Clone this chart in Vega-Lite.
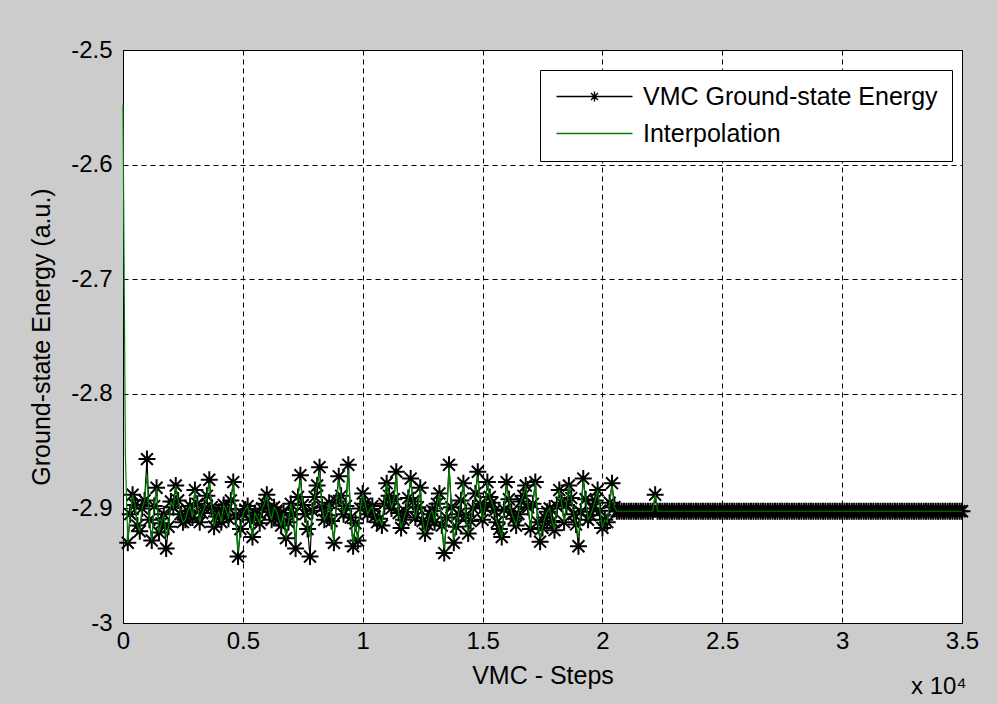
{
  "$schema": "https://vega.github.io/schema/vega-lite/v6.json",
  "width": 839,
  "height": 573,
  "autosize": "none",
  "padding": {"left": 123, "top": 50, "right": 35, "bottom": 81},
  "background": "#cccccc",
  "config": {
    "view": {"fill": "white", "stroke": "black", "strokeWidth": 1},
    "font": "Liberation Sans, Arial, sans-serif",
    "axis": {
      "domain": false, "ticks": false, "grid": true,
      "gridColor": "black", "gridDash": [5, 4], "gridOpacity": 1, "gridWidth": 1,
      "labelFont": "Liberation Sans, Arial, sans-serif", "labelFontSize": 24, "labelColor": "black",
      "titleFont": "Liberation Sans, Arial, sans-serif", "titleFontSize": 25, "titleFontWeight": "normal", "titleColor": "black"
    }
  },
  "title": {
    "text": "x 10\u2074", "orient": "bottom", "anchor": "end", "fontSize": 24, "dx": -12,
    "fontWeight": "normal", "color": "black", "font": "Liberation Sans, Arial, sans-serif", "offset": -13
  },
  "data": {"values": [
    {"step": 0, "vmc": -2.672, "interp": -2.548},
    {"step": 100, "interp": -2.855},
    {"step": 200, "vmc": -2.930, "interp": -2.930},
    {"step": 400, "vmc": -2.888, "interp": -2.888},
    {"step": 600, "vmc": -2.915, "interp": -2.915},
    {"step": 800, "vmc": -2.900, "interp": -2.900},
    {"step": 1000, "vmc": -2.857, "interp": -2.870},
    {"step": 1200, "vmc": -2.928, "interp": -2.928},
    {"step": 1400, "vmc": -2.882, "interp": -2.882},
    {"step": 1600, "vmc": -2.913, "interp": -2.913},
    {"step": 1800, "vmc": -2.935, "interp": -2.925},
    {"step": 2000, "vmc": -2.894, "interp": -2.894},
    {"step": 2200, "vmc": -2.880, "interp": -2.880},
    {"step": 2400, "vmc": -2.905, "interp": -2.905},
    {"step": 2600, "vmc": -2.910, "interp": -2.910},
    {"step": 2800, "vmc": -2.898, "interp": -2.898},
    {"step": 3000, "vmc": -2.884, "interp": -2.884},
    {"step": 3200, "vmc": -2.912, "interp": -2.912},
    {"step": 3400, "vmc": -2.900, "interp": -2.900},
    {"step": 3600, "vmc": -2.875, "interp": -2.878},
    {"step": 3800, "vmc": -2.916, "interp": -2.916},
    {"step": 4000, "vmc": -2.903, "interp": -2.903},
    {"step": 4200, "vmc": -2.897, "interp": -2.897},
    {"step": 4400, "vmc": -2.909, "interp": -2.909},
    {"step": 4600, "vmc": -2.877, "interp": -2.877},
    {"step": 4800, "vmc": -2.942, "interp": -2.938},
    {"step": 5000, "vmc": -2.905, "interp": -2.905},
    {"step": 5200, "vmc": -2.898, "interp": -2.898},
    {"step": 5400, "vmc": -2.925, "interp": -2.925},
    {"step": 5600, "vmc": -2.908, "interp": -2.908},
    {"step": 5800, "vmc": -2.900, "interp": -2.900},
    {"step": 6000, "vmc": -2.888, "interp": -2.888},
    {"step": 6200, "vmc": -2.910, "interp": -2.910},
    {"step": 6400, "vmc": -2.902, "interp": -2.902},
    {"step": 6600, "vmc": -2.915, "interp": -2.915},
    {"step": 6800, "vmc": -2.926, "interp": -2.926},
    {"step": 7000, "vmc": -2.896, "interp": -2.896},
    {"step": 7200, "vmc": -2.935, "interp": -2.930},
    {"step": 7400, "vmc": -2.871, "interp": -2.875},
    {"step": 7600, "vmc": -2.905, "interp": -2.905},
    {"step": 7800, "vmc": -2.942, "interp": -2.925},
    {"step": 8000, "vmc": -2.890, "interp": -2.890},
    {"step": 8200, "vmc": -2.864, "interp": -2.868},
    {"step": 8400, "vmc": -2.910, "interp": -2.910},
    {"step": 8600, "vmc": -2.895, "interp": -2.895},
    {"step": 8800, "vmc": -2.930, "interp": -2.930},
    {"step": 9000, "vmc": -2.872, "interp": -2.875},
    {"step": 9200, "vmc": -2.905, "interp": -2.905},
    {"step": 9400, "vmc": -2.862, "interp": -2.866},
    {"step": 9600, "vmc": -2.933, "interp": -2.930},
    {"step": 9800, "vmc": -2.928, "interp": -2.928},
    {"step": 10000, "vmc": -2.887, "interp": -2.887},
    {"step": 10200, "vmc": -2.905, "interp": -2.905},
    {"step": 10400, "vmc": -2.898, "interp": -2.898},
    {"step": 10600, "vmc": -2.912, "interp": -2.912},
    {"step": 10800, "vmc": -2.915, "interp": -2.915},
    {"step": 11000, "vmc": -2.878, "interp": -2.878},
    {"step": 11200, "vmc": -2.900, "interp": -2.900},
    {"step": 11400, "vmc": -2.868, "interp": -2.870},
    {"step": 11600, "vmc": -2.917, "interp": -2.917},
    {"step": 11800, "vmc": -2.903, "interp": -2.903},
    {"step": 12000, "vmc": -2.874, "interp": -2.876},
    {"step": 12200, "vmc": -2.908, "interp": -2.908},
    {"step": 12400, "vmc": -2.882, "interp": -2.882},
    {"step": 12600, "vmc": -2.922, "interp": -2.922},
    {"step": 12800, "vmc": -2.905, "interp": -2.905},
    {"step": 13000, "vmc": -2.912, "interp": -2.912},
    {"step": 13200, "vmc": -2.887, "interp": -2.887},
    {"step": 13400, "vmc": -2.939, "interp": -2.935},
    {"step": 13600, "vmc": -2.862, "interp": -2.864},
    {"step": 13800, "vmc": -2.930, "interp": -2.928},
    {"step": 14000, "vmc": -2.905, "interp": -2.905},
    {"step": 14200, "vmc": -2.878, "interp": -2.878},
    {"step": 14400, "vmc": -2.922, "interp": -2.922},
    {"step": 14600, "vmc": -2.900, "interp": -2.900},
    {"step": 14800, "vmc": -2.868, "interp": -2.872},
    {"step": 15000, "vmc": -2.910, "interp": -2.910},
    {"step": 15200, "vmc": -2.877, "interp": -2.877},
    {"step": 15400, "vmc": -2.895, "interp": -2.895},
    {"step": 15600, "vmc": -2.912, "interp": -2.912},
    {"step": 15800, "vmc": -2.925, "interp": -2.925},
    {"step": 16000, "vmc": -2.877, "interp": -2.880},
    {"step": 16200, "vmc": -2.903, "interp": -2.903},
    {"step": 16400, "vmc": -2.915, "interp": -2.915},
    {"step": 16600, "vmc": -2.894, "interp": -2.894},
    {"step": 16800, "vmc": -2.880, "interp": -2.880},
    {"step": 17000, "vmc": -2.918, "interp": -2.918},
    {"step": 17200, "vmc": -2.877, "interp": -2.877},
    {"step": 17400, "vmc": -2.929, "interp": -2.926},
    {"step": 17600, "vmc": -2.908, "interp": -2.908},
    {"step": 17800, "vmc": -2.900, "interp": -2.900},
    {"step": 18000, "vmc": -2.919, "interp": -2.919},
    {"step": 18200, "vmc": -2.884, "interp": -2.884},
    {"step": 18400, "vmc": -2.912, "interp": -2.912},
    {"step": 18600, "vmc": -2.880, "interp": -2.880},
    {"step": 18800, "vmc": -2.905, "interp": -2.905},
    {"step": 19000, "vmc": -2.933, "interp": -2.926},
    {"step": 19200, "vmc": -2.874, "interp": -2.876},
    {"step": 19400, "vmc": -2.910, "interp": -2.910},
    {"step": 19600, "vmc": -2.900, "interp": -2.900},
    {"step": 19800, "vmc": -2.884, "interp": -2.884},
    {"step": 20000, "vmc": -2.917, "interp": -2.917},
    {"step": 20200, "vmc": -2.912, "interp": -2.912},
    {"step": 20400, "vmc": -2.878, "interp": -2.880},
    {"step": 300, "vmc": -2.905, "interp": -2.905},
    {"step": 500, "vmc": -2.897, "interp": -2.897},
    {"step": 700, "vmc": -2.920, "interp": -2.920},
    {"step": 900, "vmc": -2.893, "interp": -2.893},
    {"step": 1100, "vmc": -2.910, "interp": -2.910},
    {"step": 1300, "vmc": -2.898, "interp": -2.898},
    {"step": 1500, "vmc": -2.921, "interp": -2.921},
    {"step": 1700, "vmc": -2.905, "interp": -2.905},
    {"step": 1900, "vmc": -2.916, "interp": -2.916},
    {"step": 2100, "vmc": -2.899, "interp": -2.899},
    {"step": 2300, "vmc": -2.893, "interp": -2.893},
    {"step": 2500, "vmc": -2.912, "interp": -2.912},
    {"step": 2700, "vmc": -2.902, "interp": -2.902},
    {"step": 2900, "vmc": -2.908, "interp": -2.908},
    {"step": 3100, "vmc": -2.896, "interp": -2.896},
    {"step": 3300, "vmc": -2.904, "interp": -2.904},
    {"step": 3500, "vmc": -2.889, "interp": -2.889},
    {"step": 3700, "vmc": -2.899, "interp": -2.899},
    {"step": 3900, "vmc": -2.907, "interp": -2.907},
    {"step": 4100, "vmc": -2.912, "interp": -2.912},
    {"step": 4300, "vmc": -2.901, "interp": -2.901},
    {"step": 4500, "vmc": -2.893, "interp": -2.893},
    {"step": 4700, "vmc": -2.906, "interp": -2.906},
    {"step": 4900, "vmc": -2.918, "interp": -2.918},
    {"step": 5100, "vmc": -2.901, "interp": -2.901},
    {"step": 5300, "vmc": -2.910, "interp": -2.910},
    {"step": 5500, "vmc": -2.904, "interp": -2.904},
    {"step": 5700, "vmc": -2.913, "interp": -2.913},
    {"step": 5900, "vmc": -2.896, "interp": -2.896},
    {"step": 6100, "vmc": -2.903, "interp": -2.903},
    {"step": 6300, "vmc": -2.899, "interp": -2.899},
    {"step": 6500, "vmc": -2.909, "interp": -2.909},
    {"step": 6700, "vmc": -2.904, "interp": -2.904},
    {"step": 6900, "vmc": -2.912, "interp": -2.912},
    {"step": 7100, "vmc": -2.905, "interp": -2.905},
    {"step": 7300, "vmc": -2.890, "interp": -2.890},
    {"step": 7500, "vmc": -2.897, "interp": -2.897},
    {"step": 7700, "vmc": -2.918, "interp": -2.918},
    {"step": 7900, "vmc": -2.902, "interp": -2.902},
    {"step": 8100, "vmc": -2.880, "interp": -2.880},
    {"step": 8300, "vmc": -2.899, "interp": -2.899},
    {"step": 8500, "vmc": -2.906, "interp": -2.906},
    {"step": 8700, "vmc": -2.911, "interp": -2.911},
    {"step": 8900, "vmc": -2.894, "interp": -2.894},
    {"step": 9100, "vmc": -2.889, "interp": -2.889},
    {"step": 9300, "vmc": -2.898, "interp": -2.898},
    {"step": 9500, "vmc": -2.908, "interp": -2.908},
    {"step": 9700, "vmc": -2.913, "interp": -2.913},
    {"step": 9900, "vmc": -2.900, "interp": -2.900},
    {"step": 10100, "vmc": -2.896, "interp": -2.896},
    {"step": 10300, "vmc": -2.901, "interp": -2.901},
    {"step": 10500, "vmc": -2.907, "interp": -2.907},
    {"step": 10700, "vmc": -2.909, "interp": -2.909},
    {"step": 10900, "vmc": -2.896, "interp": -2.896},
    {"step": 11100, "vmc": -2.889, "interp": -2.889},
    {"step": 11300, "vmc": -2.892, "interp": -2.892},
    {"step": 11500, "vmc": -2.904, "interp": -2.904},
    {"step": 11700, "vmc": -2.910, "interp": -2.910},
    {"step": 11900, "vmc": -2.891, "interp": -2.891},
    {"step": 12100, "vmc": -2.894, "interp": -2.894},
    {"step": 12300, "vmc": -2.899, "interp": -2.899},
    {"step": 12500, "vmc": -2.911, "interp": -2.911},
    {"step": 12700, "vmc": -2.914, "interp": -2.914},
    {"step": 12900, "vmc": -2.902, "interp": -2.902},
    {"step": 13100, "vmc": -2.896, "interp": -2.896},
    {"step": 13300, "vmc": -2.915, "interp": -2.915},
    {"step": 13500, "vmc": -2.908, "interp": -2.908},
    {"step": 13700, "vmc": -2.899, "interp": -2.899},
    {"step": 13900, "vmc": -2.916, "interp": -2.916},
    {"step": 14100, "vmc": -2.893, "interp": -2.893},
    {"step": 14300, "vmc": -2.906, "interp": -2.906},
    {"step": 14500, "vmc": -2.911, "interp": -2.911},
    {"step": 14700, "vmc": -2.887, "interp": -2.887},
    {"step": 14900, "vmc": -2.896, "interp": -2.896},
    {"step": 15100, "vmc": -2.899, "interp": -2.899},
    {"step": 15300, "vmc": -2.890, "interp": -2.890},
    {"step": 15500, "vmc": -2.902, "interp": -2.902},
    {"step": 15700, "vmc": -2.918, "interp": -2.918},
    {"step": 15900, "vmc": -2.901, "interp": -2.901},
    {"step": 16100, "vmc": -2.892, "interp": -2.892},
    {"step": 16300, "vmc": -2.909, "interp": -2.909},
    {"step": 16500, "vmc": -2.905, "interp": -2.905},
    {"step": 16700, "vmc": -2.889, "interp": -2.889},
    {"step": 16900, "vmc": -2.899, "interp": -2.899},
    {"step": 17100, "vmc": -2.896, "interp": -2.896},
    {"step": 17300, "vmc": -2.912, "interp": -2.912},
    {"step": 17500, "vmc": -2.917, "interp": -2.917},
    {"step": 17700, "vmc": -2.903, "interp": -2.903},
    {"step": 17900, "vmc": -2.911, "interp": -2.911},
    {"step": 18100, "vmc": -2.898, "interp": -2.898},
    {"step": 18300, "vmc": -2.895, "interp": -2.895},
    {"step": 18500, "vmc": -2.897, "interp": -2.897},
    {"step": 18700, "vmc": -2.891, "interp": -2.891},
    {"step": 18900, "vmc": -2.914, "interp": -2.914},
    {"step": 19100, "vmc": -2.903, "interp": -2.903},
    {"step": 19300, "vmc": -2.892, "interp": -2.892},
    {"step": 19500, "vmc": -2.906, "interp": -2.906},
    {"step": 19700, "vmc": -2.893, "interp": -2.893},
    {"step": 19900, "vmc": -2.902, "interp": -2.902},
    {"step": 20100, "vmc": -2.910, "interp": -2.910},
    {"step": 20300, "vmc": -2.895, "interp": -2.895},
    {"step": 20500, "vmc": -2.899, "interp": -2.899},
    {"step": 20600, "vmc": -2.9025, "interp": -2.9025},
    {"step": 20700, "vmc": -2.9025, "interp": -2.9025},
    {"step": 20800, "vmc": -2.9025, "interp": -2.9025},
    {"step": 20900, "vmc": -2.9025, "interp": -2.9025},
    {"step": 21000, "vmc": -2.9025, "interp": -2.9025},
    {"step": 21100, "vmc": -2.9025, "interp": -2.9025},
    {"step": 21200, "vmc": -2.9025, "interp": -2.9025},
    {"step": 21300, "vmc": -2.9025, "interp": -2.9025},
    {"step": 21400, "vmc": -2.9025, "interp": -2.9025},
    {"step": 21500, "vmc": -2.9025, "interp": -2.9025},
    {"step": 21600, "vmc": -2.9025, "interp": -2.9025},
    {"step": 21700, "vmc": -2.9025, "interp": -2.9025},
    {"step": 21800, "vmc": -2.9025, "interp": -2.9025},
    {"step": 21900, "vmc": -2.9025, "interp": -2.9025},
    {"step": 22000, "vmc": -2.9025, "interp": -2.9025},
    {"step": 22100, "vmc": -2.9025, "interp": -2.9025},
    {"step": 22200, "vmc": -2.888, "interp": -2.888},
    {"step": 22300, "vmc": -2.9025, "interp": -2.9025},
    {"step": 22400, "vmc": -2.9025, "interp": -2.9025},
    {"step": 22500, "vmc": -2.9025, "interp": -2.9025},
    {"step": 22600, "vmc": -2.9025, "interp": -2.9025},
    {"step": 22700, "vmc": -2.9025, "interp": -2.9025},
    {"step": 22800, "vmc": -2.9025, "interp": -2.9025},
    {"step": 22900, "vmc": -2.9025, "interp": -2.9025},
    {"step": 23000, "vmc": -2.9025, "interp": -2.9025},
    {"step": 23100, "vmc": -2.9025, "interp": -2.9025},
    {"step": 23200, "vmc": -2.9025, "interp": -2.9025},
    {"step": 23300, "vmc": -2.9025, "interp": -2.9025},
    {"step": 23400, "vmc": -2.9025, "interp": -2.9025},
    {"step": 23500, "vmc": -2.9025, "interp": -2.9025},
    {"step": 23600, "vmc": -2.9025, "interp": -2.9025},
    {"step": 23700, "vmc": -2.9025, "interp": -2.9025},
    {"step": 23800, "vmc": -2.9025, "interp": -2.9025},
    {"step": 23900, "vmc": -2.9025, "interp": -2.9025},
    {"step": 24000, "vmc": -2.9025, "interp": -2.9025},
    {"step": 24100, "vmc": -2.9025, "interp": -2.9025},
    {"step": 24200, "vmc": -2.9025, "interp": -2.9025},
    {"step": 24300, "vmc": -2.9025, "interp": -2.9025},
    {"step": 24400, "vmc": -2.9025, "interp": -2.9025},
    {"step": 24500, "vmc": -2.9025, "interp": -2.9025},
    {"step": 24600, "vmc": -2.9025, "interp": -2.9025},
    {"step": 24700, "vmc": -2.9025, "interp": -2.9025},
    {"step": 24800, "vmc": -2.9025, "interp": -2.9025},
    {"step": 24900, "vmc": -2.9025, "interp": -2.9025},
    {"step": 25000, "vmc": -2.9025, "interp": -2.9025},
    {"step": 25100, "vmc": -2.9025, "interp": -2.9025},
    {"step": 25200, "vmc": -2.9025, "interp": -2.9025},
    {"step": 25300, "vmc": -2.9025, "interp": -2.9025},
    {"step": 25400, "vmc": -2.9025, "interp": -2.9025},
    {"step": 25500, "vmc": -2.9025, "interp": -2.9025},
    {"step": 25600, "vmc": -2.9025, "interp": -2.9025},
    {"step": 25700, "vmc": -2.9025, "interp": -2.9025},
    {"step": 25800, "vmc": -2.9025, "interp": -2.9025},
    {"step": 25900, "vmc": -2.9025, "interp": -2.9025},
    {"step": 26000, "vmc": -2.9025, "interp": -2.9025},
    {"step": 26100, "vmc": -2.9025, "interp": -2.9025},
    {"step": 26200, "vmc": -2.9025, "interp": -2.9025},
    {"step": 26300, "vmc": -2.9025, "interp": -2.9025},
    {"step": 26400, "vmc": -2.9025, "interp": -2.9025},
    {"step": 26500, "vmc": -2.9025, "interp": -2.9025},
    {"step": 26600, "vmc": -2.9025, "interp": -2.9025},
    {"step": 26700, "vmc": -2.9025, "interp": -2.9025},
    {"step": 26800, "vmc": -2.9025, "interp": -2.9025},
    {"step": 26900, "vmc": -2.9025, "interp": -2.9025},
    {"step": 27000, "vmc": -2.9025, "interp": -2.9025},
    {"step": 27100, "vmc": -2.9025, "interp": -2.9025},
    {"step": 27200, "vmc": -2.9025, "interp": -2.9025},
    {"step": 27300, "vmc": -2.9025, "interp": -2.9025},
    {"step": 27400, "vmc": -2.9025, "interp": -2.9025},
    {"step": 27500, "vmc": -2.9025, "interp": -2.9025},
    {"step": 27600, "vmc": -2.9025, "interp": -2.9025},
    {"step": 27700, "vmc": -2.9025, "interp": -2.9025},
    {"step": 27800, "vmc": -2.9025, "interp": -2.9025},
    {"step": 27900, "vmc": -2.9025, "interp": -2.9025},
    {"step": 28000, "vmc": -2.9025, "interp": -2.9025},
    {"step": 28100, "vmc": -2.9025, "interp": -2.9025},
    {"step": 28200, "vmc": -2.9025, "interp": -2.9025},
    {"step": 28300, "vmc": -2.9025, "interp": -2.9025},
    {"step": 28400, "vmc": -2.9025, "interp": -2.9025},
    {"step": 28500, "vmc": -2.9025, "interp": -2.9025},
    {"step": 28600, "vmc": -2.9025, "interp": -2.9025},
    {"step": 28700, "vmc": -2.9025, "interp": -2.9025},
    {"step": 28800, "vmc": -2.9025, "interp": -2.9025},
    {"step": 28900, "vmc": -2.9025, "interp": -2.9025},
    {"step": 29000, "vmc": -2.9025, "interp": -2.9025},
    {"step": 29100, "vmc": -2.9025, "interp": -2.9025},
    {"step": 29200, "vmc": -2.9025, "interp": -2.9025},
    {"step": 29300, "vmc": -2.9025, "interp": -2.9025},
    {"step": 29400, "vmc": -2.9025, "interp": -2.9025},
    {"step": 29500, "vmc": -2.9025, "interp": -2.9025},
    {"step": 29600, "vmc": -2.9025, "interp": -2.9025},
    {"step": 29700, "vmc": -2.9025, "interp": -2.9025},
    {"step": 29800, "vmc": -2.9025, "interp": -2.9025},
    {"step": 29900, "vmc": -2.9025, "interp": -2.9025},
    {"step": 30000, "vmc": -2.9025, "interp": -2.9025},
    {"step": 30100, "vmc": -2.9025, "interp": -2.9025},
    {"step": 30200, "vmc": -2.9025, "interp": -2.9025},
    {"step": 30300, "vmc": -2.9025, "interp": -2.9025},
    {"step": 30400, "vmc": -2.9025, "interp": -2.9025},
    {"step": 30500, "vmc": -2.9025, "interp": -2.9025},
    {"step": 30600, "vmc": -2.9025, "interp": -2.9025},
    {"step": 30700, "vmc": -2.9025, "interp": -2.9025},
    {"step": 30800, "vmc": -2.9025, "interp": -2.9025},
    {"step": 30900, "vmc": -2.9025, "interp": -2.9025},
    {"step": 31000, "vmc": -2.9025, "interp": -2.9025},
    {"step": 31100, "vmc": -2.9025, "interp": -2.9025},
    {"step": 31200, "vmc": -2.9025, "interp": -2.9025},
    {"step": 31300, "vmc": -2.9025, "interp": -2.9025},
    {"step": 31400, "vmc": -2.9025, "interp": -2.9025},
    {"step": 31500, "vmc": -2.9025, "interp": -2.9025},
    {"step": 31600, "vmc": -2.9025, "interp": -2.9025},
    {"step": 31700, "vmc": -2.9025, "interp": -2.9025},
    {"step": 31800, "vmc": -2.9025, "interp": -2.9025},
    {"step": 31900, "vmc": -2.9025, "interp": -2.9025},
    {"step": 32000, "vmc": -2.9025, "interp": -2.9025},
    {"step": 32100, "vmc": -2.9025, "interp": -2.9025},
    {"step": 32200, "vmc": -2.9025, "interp": -2.9025},
    {"step": 32300, "vmc": -2.9025, "interp": -2.9025},
    {"step": 32400, "vmc": -2.9025, "interp": -2.9025},
    {"step": 32500, "vmc": -2.9025, "interp": -2.9025},
    {"step": 32600, "vmc": -2.9025, "interp": -2.9025},
    {"step": 32700, "vmc": -2.9025, "interp": -2.9025},
    {"step": 32800, "vmc": -2.9025, "interp": -2.9025},
    {"step": 32900, "vmc": -2.9025, "interp": -2.9025},
    {"step": 33000, "vmc": -2.9025, "interp": -2.9025},
    {"step": 33100, "vmc": -2.9025, "interp": -2.9025},
    {"step": 33200, "vmc": -2.9025, "interp": -2.9025},
    {"step": 33300, "vmc": -2.9025, "interp": -2.9025},
    {"step": 33400, "vmc": -2.9025, "interp": -2.9025},
    {"step": 33500, "vmc": -2.9025, "interp": -2.9025},
    {"step": 33600, "vmc": -2.9025, "interp": -2.9025},
    {"step": 33700, "vmc": -2.9025, "interp": -2.9025},
    {"step": 33800, "vmc": -2.9025, "interp": -2.9025},
    {"step": 33900, "vmc": -2.9025, "interp": -2.9025},
    {"step": 34000, "vmc": -2.9025, "interp": -2.9025},
    {"step": 34100, "vmc": -2.9025, "interp": -2.9025},
    {"step": 34200, "vmc": -2.9025, "interp": -2.9025},
    {"step": 34300, "vmc": -2.9025, "interp": -2.9025},
    {"step": 34400, "vmc": -2.9025, "interp": -2.9025},
    {"step": 34500, "vmc": -2.9025, "interp": -2.9025},
    {"step": 34600, "vmc": -2.9025, "interp": -2.9025},
    {"step": 34700, "vmc": -2.9025, "interp": -2.9025},
    {"step": 34800, "vmc": -2.9025, "interp": -2.9025},
    {"step": 34900, "vmc": -2.9025, "interp": -2.9025},
    {"step": 35000, "vmc": -2.9025, "interp": -2.9025}
  ]},
  "encoding": {
    "x": {
      "field": "step", "type": "quantitative",
      "scale": {"domain": [0, 35000], "nice": false, "zero": false},
      "axis": {
        "title": "VMC - Steps", "values": [0, 5000, 10000, 15000, 20000, 25000, 30000, 35000],
        "labelExpr": "format(datum.value / 10000, '~g')", "labelPadding": 6, "titlePadding": 10,
        "labelFlush": false, "labelOverlap": false
      }
    }
  },
  "layer": [
    {
      "mark": {"type": "line", "strokeWidth": 1.2},
      "encoding": {
        "y": {
          "field": "vmc", "type": "quantitative",
          "scale": {"domain": [-3, -2.5], "nice": false, "zero": false},
          "axis": {
            "title": "Ground-state Energy (a.u.)", "values": [-3, -2.9, -2.8, -2.7, -2.6, -2.5],
            "labelExpr": "replace(format(datum.value, '~g'), '\u2212', '-')",
            "labelPadding": 11, "titlePadding": 16, "labelFlush": false, "labelOverlap": false
          }
        },
        "color": {
          "datum": "VMC Ground-state Energy",
          "type": "nominal",
          "scale": {"domain": ["VMC Ground-state Energy", "Interpolation"], "range": ["black", "#008000"]},
          "legend": {
            "orient": "none", "legendX": 417, "legendY": 20, "title": null,
            "fillColor": "white", "strokeColor": "black", "padding": 14,
            "labelFont": "Liberation Sans, Arial, sans-serif", "labelFontSize": 25, "labelColor": "black",
            "labelLimit": 400, "labelOffset": 64, "rowPadding": 11,
            "symbolSize": 196, "symbolStrokeWidth": 1.4, "symbolFillColor": "transparent",
            "symbolType": "M-1.43,0L9.43,0",
            "encode": {
              "symbols": {
                "update": {
                  "shape": {"signal": "datum.value == 'Interpolation' ? 'M-1.43,0L9.43,0' : 'M-1.43,0L9.43,0M3.29,0L4.71,0M4,-0.71L4,0.71M3.5,-0.5L4.5,0.5M3.5,0.5L4.5,-0.5'"}
                }
              }
            }
          }
        }
      }
    },
    {
      "transform": [{"filter": "datum.step > 0"}],
      "mark": {
        "type": "point",
        "shape": "M-1,0L1,0M0,-1L0,1M-0.7,-0.7L0.7,0.7M-0.7,0.7L0.7,-0.7",
        "filled": false, "size": 289, "stroke": "black", "strokeWidth": 2, "opacity": 1
      },
      "encoding": {
        "y": {"field": "vmc", "type": "quantitative"}
      }
    },
    {
      "mark": {"type": "line", "strokeWidth": 1.2},
      "encoding": {
        "y": {"field": "interp", "type": "quantitative"},
        "color": {"datum": "Interpolation", "type": "nominal"}
      }
    }
  ]
}
